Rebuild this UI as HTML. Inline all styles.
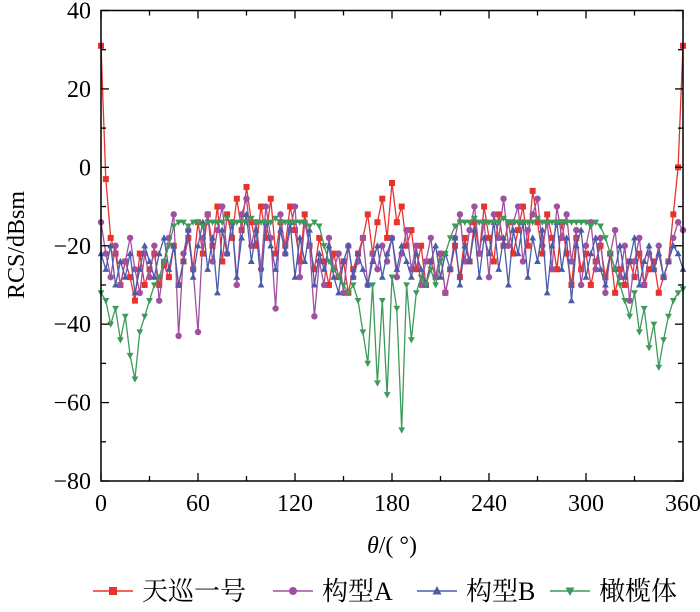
<!DOCTYPE html>
<html><head><meta charset="utf-8"><style>
body{margin:0;background:#fff;}
</style></head><body>
<svg id="c" width="700" height="607" xmlns="http://www.w3.org/2000/svg" font-family="'Liberation Serif','Noto Serif CJK SC',serif"></svg>
<script>
const angles=[];for(let i=0;i<=120;i++)angles.push(i*3);
const xTicks=[0,60,120,180,240,300,360];
const yTicks=[40,20,0,-20,-40,-60,-80];
const seriesNames=["天巡一号","构型A","构型B","橄榄体"];
const red=[31,-3,-18,-22,-30,-24,-28,-34,-22,-30,-26,-22,-30,-25,-28,-20,-30,-24,-18,-26,-14,-22,-12,-20,-10,-24,-12,-18,-8,-16,-5,-14,-20,-10,-18,-8,-22,-14,-20,-10,-16,-24,-12,-20,-26,-18,-24,-30,-22,-28,-24,-32,-26,-22,-18,-12,-22,-14,-8,-18,-4,-14,-10,-20,-16,-26,-20,-30,-24,-28,-22,-32,-26,-20,-28,-18,-24,-14,-22,-10,-18,-24,-12,-20,-14,-22,-16,-10,-20,-6,-14,-22,-12,-18,-26,-14,-22,-30,-18,-26,-22,-30,-24,-20,-28,-22,-32,-26,-30,-24,-28,-22,-30,-26,-24,-32,-28,-24,-12,0,31];
const purple=[-14,-22,-28,-20,-30,-24,-18,-26,-32,-22,-28,-20,-34,-24,-18,-12,-43,-22,-16,-26,-42,-18,-12,-24,-16,-10,-22,-14,-30,-12,-8,-20,-14,-26,-10,-18,-36,-12,-22,-16,-10,-28,-14,-20,-38,-24,-30,-18,-26,-22,-32,-20,-28,-24,-18,-30,-22,-26,-20,-24,-18,-28,-22,-16,-26,-20,-30,-24,-18,-28,-22,-32,-26,-18,-12,-24,-16,-10,-22,-14,-28,-12,-18,-8,-20,-14,-10,-24,-16,-12,-8,-20,-14,-26,-10,-18,-12,-24,-16,-30,-20,-14,-26,-18,-32,-22,-16,-28,-20,-34,-24,-18,-30,-22,-26,-20,-28,-24,-18,-14,-16];
const blue=[-22,-26,-20,-30,-24,-28,-22,-32,-26,-20,-24,-28,-22,-18,-26,-20,-30,-24,-16,-28,-20,-14,-26,-18,-32,-16,-22,-14,-28,-18,-12,-24,-16,-30,-14,-20,-26,-16,-22,-14,-28,-18,-24,-16,-30,-22,-26,-20,-28,-32,-24,-20,-28,-22,-26,-30,-24,-20,-28,-22,-18,-26,-20,-24,-28,-22,-26,-30,-24,-20,-28,-22,-26,-18,-30,-20,-24,-16,-28,-18,-22,-14,-26,-18,-30,-16,-22,-14,-28,-18,-24,-16,-32,-20,-14,-26,-18,-34,-20,-16,-28,-22,-18,-26,-30,-22,-26,-20,-28,-24,-18,-30,-24,-20,-26,-22,-28,-24,-20,-22,-26];
const green=[-32,-34,-40,-36,-44,-38,-48,-54,-42,-38,-34,-30,-28,-24,-20,-15,-14,-14,-15,-14,-14,-15,-14,-14,-14,-14,-13,-14,-14,-14,-14,-13,-14,-14,-14,-14,-13,-14,-14,-14,-14,-14,-14,-15,-14,-15,-20,-24,-26,-28,-30,-32,-30,-34,-42,-50,-30,-55,-34,-58,-28,-36,-67,-30,-44,-32,-28,-30,-26,-30,-24,-22,-18,-15,-14,-14,-14,-13,-14,-14,-14,-14,-14,-13,-14,-14,-14,-14,-14,-14,-13,-14,-14,-14,-14,-14,-14,-14,-14,-14,-14,-15,-14,-15,-18,-22,-26,-30,-34,-38,-32,-42,-36,-46,-40,-51,-44,-38,-34,-32,-31];
const colors=["#e8322d","#a050a0","#4a5ca8","#3e9a5a"];
const L=101,R=683,T=10.5,B=481;
const xs=v=>L+(v/360)*(R-L);
const ys=v=>T+(40-v)/120*(B-T);
const svg=document.getElementById('c');
const NS="http://www.w3.org/2000/svg";
function mk(t,a,p){const e=document.createElementNS(NS,t);for(const k in a)e.setAttribute(k,a[k]);(p||svg).appendChild(e);return e;}
const all=[red,purple,blue,green];
all.forEach((d,si)=>{
 const g=mk('g',{});
 
 
 const pts=d.map((v,i)=>xs(angles[i]).toFixed(1)+','+ys(v).toFixed(1)).join(' ');
 mk('polyline',{points:pts,fill:'none',stroke:colors[si],'stroke-width':1.3},g);
 d.forEach((v,i)=>{
  const x=xs(angles[i]),y=ys(v);let m;
  if(si===0)m=mk('rect',{x:x-3,y:y-3,width:6,height:6,fill:colors[0]},g);
  else if(si===1)m=mk('circle',{cx:x,cy:y,r:3.2,fill:colors[1]},g);
  else if(si===2)m=mk('polygon',{points:`${x},${y-3.6} ${x-3.4},${y+2.6} ${x+3.4},${y+2.6}`,fill:colors[2]},g);
  else m=mk('polygon',{points:`${x},${y+3.6} ${x-3.4},${y-2.6} ${x+3.4},${y-2.6}`,fill:colors[3]},g);
  
  
 });
});
const fr=mk('rect',{x:L,y:T,width:R-L,height:B-T,fill:'none',stroke:'#000','stroke-width':1.5});


xTicks.forEach(v=>{
 const x=xs(v);
 mk('line',{x1:x,y1:B,x2:x,y2:B-8,stroke:'#000','stroke-width':1.3});
 mk('line',{x1:x,y1:T,x2:x,y2:T+8,stroke:'#000','stroke-width':1.3});
 const t=mk('text',{x:x,y:B+30,'font-size':24,'text-anchor':'middle'});t.textContent=v;
 
 
 if(v<360){const xm=xs(v+30);
  mk('line',{x1:xm,y1:B,x2:xm,y2:B-5,stroke:'#000','stroke-width':1.3});
  mk('line',{x1:xm,y1:T,x2:xm,y2:T+5,stroke:'#000','stroke-width':1.3});}
});
yTicks.forEach(v=>{
 const y=ys(v);
 mk('line',{x1:L,y1:y,x2:L+8,y2:y,stroke:'#000','stroke-width':1.3});
 mk('line',{x1:R,y1:y,x2:R-8,y2:y,stroke:'#000','stroke-width':1.3});
 const t=mk('text',{x:L-10,y:y+8,'font-size':24,'text-anchor':'end'});t.textContent=(v<0?'\u2212'+(-v):v);
 
 
 if(v>-80){const ym=ys(v-10);
  mk('line',{x1:L,y1:ym,x2:L+5,y2:ym,stroke:'#000','stroke-width':1.3});
  mk('line',{x1:R,y1:ym,x2:R-5,y2:ym,stroke:'#000','stroke-width':1.3});}
});
const xt=mk('text',{x:392,y:553,'font-size':24,'text-anchor':'middle'});
xt.innerHTML='<tspan font-style="italic">θ</tspan>/( °)';


const yt=mk('text',{x:0,y:0,'font-size':24,'text-anchor':'middle',transform:'translate(24,245) rotate(-90)'});
yt.textContent='RCS/dBsm';


const lx=[93,273,417,550];
seriesNames.forEach((n,si)=>{
 const g=mk('g',{});
 
 
 const x=lx[si],y=591;
 mk('line',{x1:x,y1:y,x2:x+40,y2:y,stroke:colors[si],'stroke-width':1.5},g);
 const c=x+20;
 if(si===0)mk('rect',{x:c-4,y:y-4,width:8,height:8,fill:colors[0]},g);
 else if(si===1)mk('circle',{cx:c,cy:y,r:4,fill:colors[1]},g);
 else if(si===2)mk('polygon',{points:`${c},${y-5} ${c-4.5},${y+3.5} ${c+4.5},${y+3.5}`,fill:colors[2]},g);
 else mk('polygon',{points:`${c},${y+5} ${c-4.5},${y-3.5} ${c+4.5},${y-3.5}`,fill:colors[3]},g);
 const t=mk('text',{x:x+49,y:y+9,'font-size':26},g);t.textContent=n;
});
</script>
</body></html>
